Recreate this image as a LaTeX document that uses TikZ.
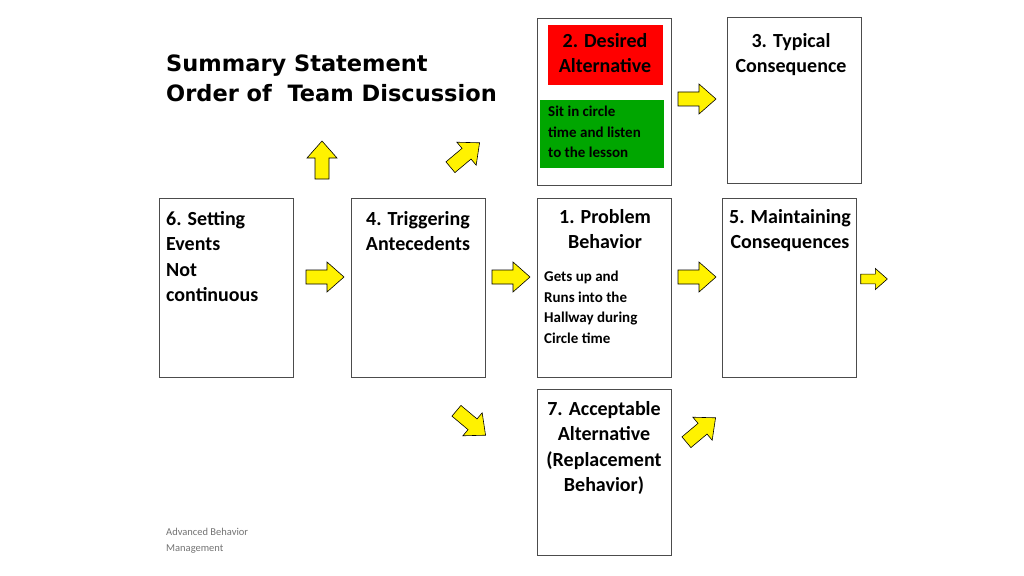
\documentclass[tikz,border=0pt]{standalone}
\usepackage{fontspec}
\setmainfont{Carlito}
\newfontfamily\titlefont{DejaVu Sans}
\begin{document}
\begin{tikzpicture}[x=1pt,y=-1pt,
  box/.style={draw=black!70,line width=0.8pt,fill=white},
  lbl/.style={anchor=north,align=center,inner sep=0pt,font=\bfseries\fontsize{20}{25.5}\selectfont},
  body/.style={anchor=north west,align=left,inner sep=0pt,font=\bfseries\fontsize{15}{20.5}\selectfont},
  yarrow/.pic={\draw[fill=yellow,line width=0.6pt] (-19,-7)--(2,-7)--(2,-15)--(19,0)--(2,15)--(2,7)--(-19,7)--cycle;}]
\path[use as bounding box,fill=white] (0,0) rectangle (1024,575);
% boxes
\draw[box] (159,198) rectangle (293,377);
\draw[box] (351,198) rectangle (485,377);
\draw[box] (537,198) rectangle (671,377);
\draw[box] (722,198) rectangle (856,377);
\draw[box] (537,18) rectangle (671,185);
\draw[box] (727,17) rectangle (861,183);
\draw[box] (537,389) rectangle (671,555);
\fill[red] (548,25) rectangle (663,85);
\fill[green!65!black] (540,100) rectangle (664,168);
% labels
\node[lbl] (desired) at (605,33) {2. Desired\\Alternative};
\node[body] (sit) at (548,106) {Sit in circle\\time and listen\\to the lesson};
\node[lbl] (typical) at (791,33) {3. Typical\\Consequence};
\node[lbl,anchor=north west,align=left] (setting) at (166,211) {6. Setting\\Events\\Not\\continuous};
\node[lbl] (trigger) at (418,211) {4. Triggering\\Antecedents};
\node[lbl] (problem) at (605,209) {1. Problem\\Behavior};
\node[body] (gets) at (544,271) {Gets up and\\Runs into the\\Hallway during\\Circle time};
\node[lbl] (maintain) at (790,209) {5. Maintaining\\Consequences};
\node[lbl] (accept) at (604,401) {7. Acceptable\\Alternative\\(Replacement\\Behavior)};
\node[anchor=north west,align=left,inner sep=0pt,font=\titlefont\bfseries\fontsize{22.5}{30}\selectfont] (title) at (166,55) {Summary Statement\\Order of~ Team Discussion};
\node[anchor=north west,align=left,inner sep=0pt,text=black!55,font=\fontsize{10.5}{16}\selectfont] (footer) at (166,528) {Advanced Behavior\\Management};
% arrows
\pic at (325,277) {yarrow};
\pic at (511,277) {yarrow};
\pic at (697,277) {yarrow};
\pic[scale=0.7] at (874,279) {yarrow};
\pic at (697,99) {yarrow};
\pic[rotate=90] at (322,160) {yarrow};
\pic[rotate=40] at (465,155) {yarrow};
\pic[rotate=-40] at (471,423) {yarrow};
\pic[rotate=40] at (701,430) {yarrow};
\end{tikzpicture}
\end{document}
